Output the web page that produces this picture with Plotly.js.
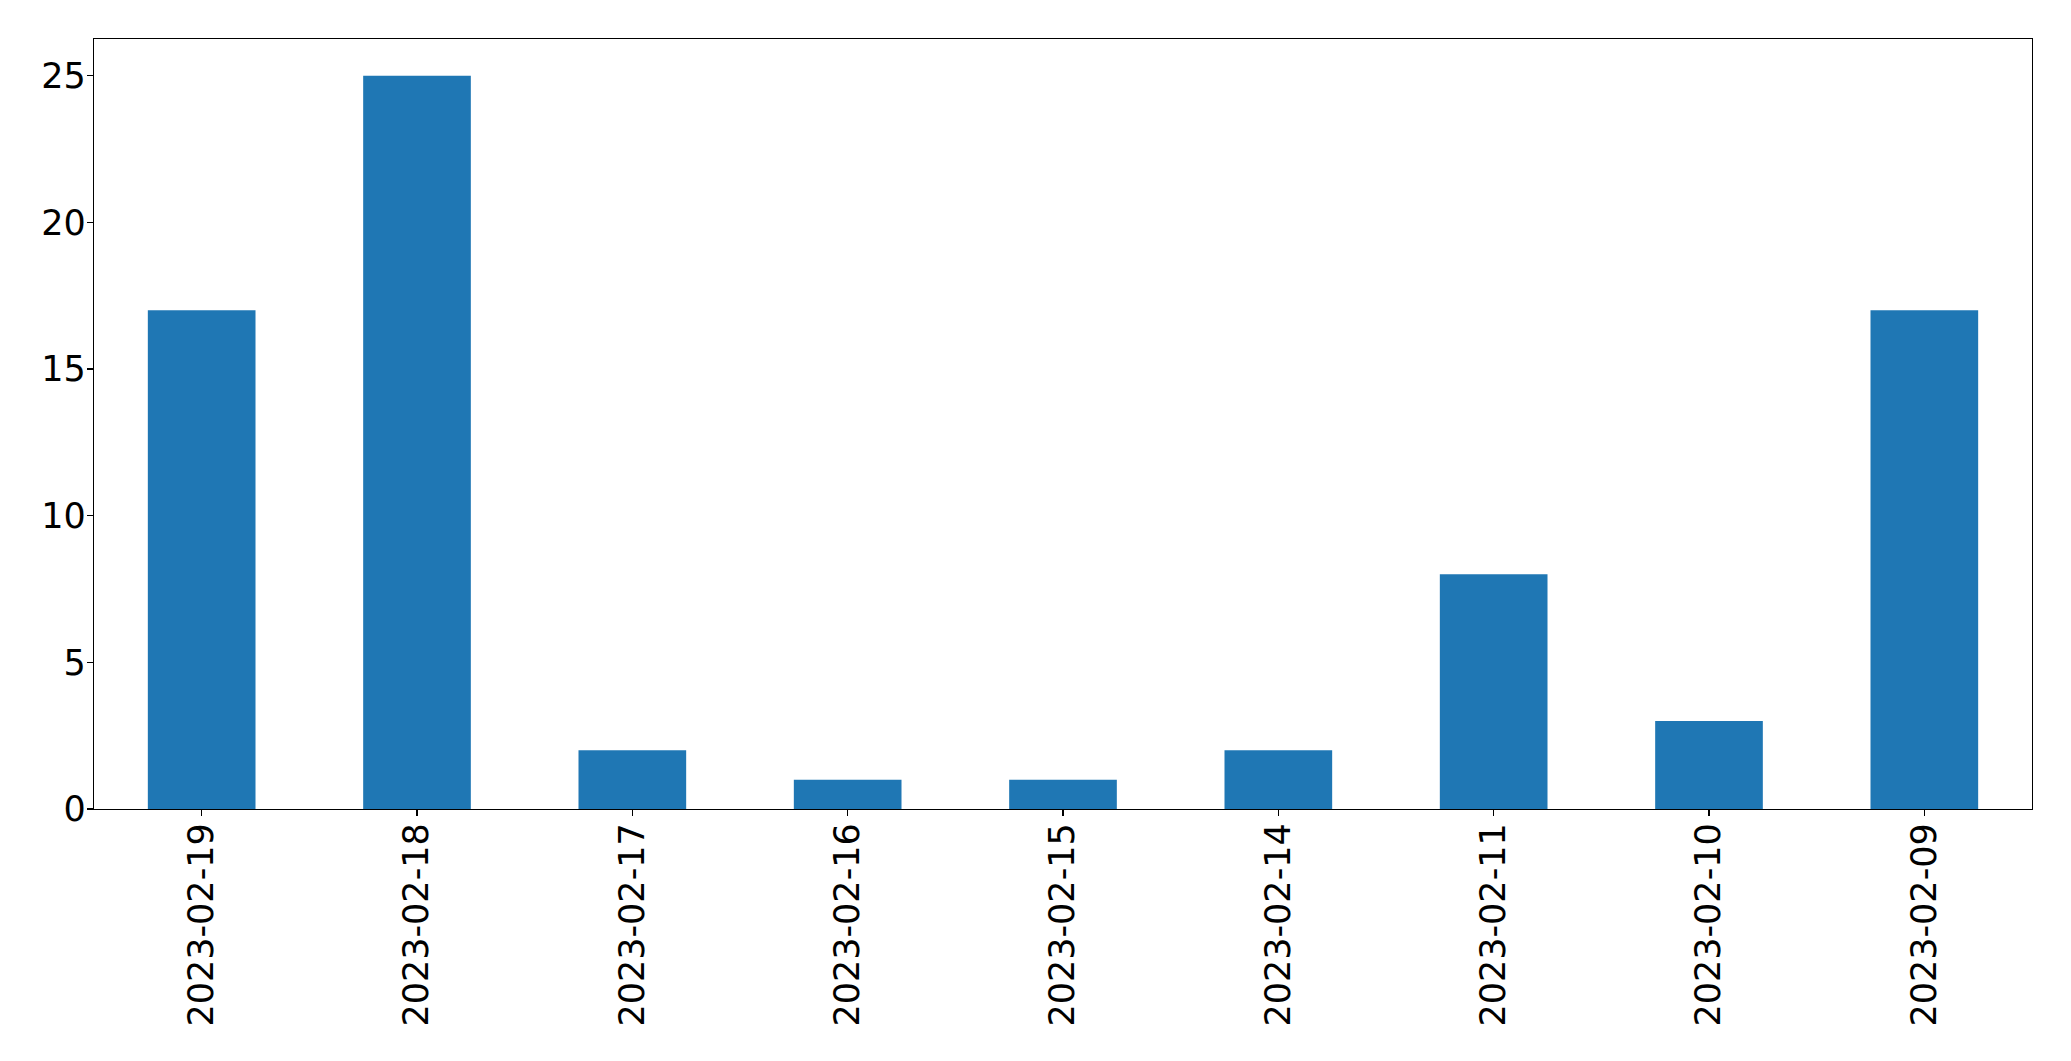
<!DOCTYPE html>
<html>
<head>
<meta charset="utf-8">
<script src="https://cdn.plot.ly/plotly-3.0.1.min.js"></script>
<style>html,body{margin:0;padding:0;background:#fff;}#chart{width:2071px;height:1061px;}</style>
</head>
<body>
<div id="chart"></div>
<script>
const dates = ["2023-02-19","2023-02-18","2023-02-17","2023-02-16","2023-02-15","2023-02-14","2023-02-11","2023-02-10","2023-02-09"];
const counts = [17, 25, 2, 1, 1, 2, 8, 3, 17];
const yTicks = [0, 5, 10, 15, 20, 25];

const font = {family: "DejaVu Sans", size: 35, color: "#000"};
Plotly.newPlot("chart", [{
  type: "bar",
  x: dates,
  y: counts,
  width: 0.5,
  marker: {color: "#1f77b4", line: {width: 0}},
  hoverinfo: "x+y"
}], {
  width: 2071, height: 1061,
  margin: {l: 94, r: 39, t: 39, b: 252, pad: 0},
  paper_bgcolor: "#fff", plot_bgcolor: "#fff",
  showlegend: false,
  font: font,
  xaxis: {
    type: "category",
    range: [-0.5, 8.5],
    tickangle: -90,
    ticks: "outside", ticklen: 6, tickwidth: 1.2, tickcolor: "#000",
    showline: true, linecolor: "#000", linewidth: 1.2, mirror: true,
    showgrid: false, zeroline: false,
    tickfont: font,
    ticklabelstandoff: -7
  },
  yaxis: {
    range: [0, 26.25],
    tickvals: yTicks,
    ticktext: yTicks.map(String),
    ticks: "outside", ticklen: 6, tickwidth: 1.2, tickcolor: "#000",
    showline: true, linecolor: "#000", linewidth: 1.2, mirror: true,
    showgrid: false, zeroline: false,
    tickfont: font,
    ticklabelstandoff: -6
  }
}, {displayModeBar: false, staticPlot: true});
</script>
</body>
</html>
